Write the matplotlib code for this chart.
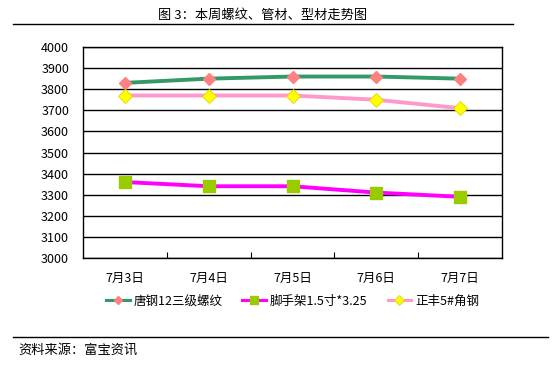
import matplotlib.pyplot as plt
import numpy as np

plt.rcParams['font.family'] = ['Noto Sans CJK SC', 'DejaVu Sans']

dates = ['7月3日', '7月4日', '7月5日', '7月6日', '7月7日']
rebar = [3830, 3850, 3860, 3860, 3850]
scaffold = [3360, 3340, 3340, 3310, 3290]
angle = [3770, 3770, 3770, 3750, 3710]

fig = plt.figure(figsize=(5.55, 3.81), dpi=100)
ax = fig.add_axes([83/555, 1 - 258/381, 419/555, 211/381])

x = np.arange(len(dates)) + 0.5
ax.plot(x, rebar, color='#339966', lw=2.8, marker='D', ms=6.5,
        mfc='#FF8080', mec='#FF8080', label='唐钢12三级螺纹', zorder=3)
ax.plot(x, scaffold, color='#FF00FF', lw=2.8, marker='s', ms=8,
        mfc='#99CC00', mec='#99CC00', label='脚手架1.5寸*3.25', zorder=3)
ax.plot(x, angle, color='#FF99CC', lw=2.8, marker='D', ms=7,
        mfc='#FFFF00', mec='#E8D000', mew=0.6, label='正丰5#角钢', zorder=3)

ax.set_xlim(0, len(dates))
ax.set_ylim(3000, 4000)
ax.set_yticks(np.arange(3000, 4001, 100))
ax.yaxis.grid(True, color='black', lw=1)
ax.set_axisbelow(True)
ax.tick_params(axis='y', length=0, pad=10, labelsize=9)

ax.set_xticks(np.arange(1, len(dates)))
ax.set_xticks(x, minor=True)
ax.set_xticklabels([], minor=False)
ax.set_xticklabels(dates, minor=True, fontsize=9)
ax.tick_params(axis='x', which='major', direction='in', length=4, color='black')
ax.tick_params(axis='x', which='minor', length=0, pad=10)
for s in ax.spines.values():
    s.set_color('black')
    s.set_linewidth(1)

leg = ax.legend(loc='center', bbox_to_anchor=(0.5, -43/211), ncol=3, frameon=False,
                fontsize=9, handlelength=1.9, columnspacing=1.6, handletextpad=0.3,
                markerscale=0.7)
for h in leg.legend_handles:
    h.set_linewidth(2.2)

fig.text(263/555, 1 - 15/381, '图 3：本周螺纹、管材、型材走势图', ha='center', va='center', fontsize=9.5)
fig.add_artist(plt.Line2D([13/555, 513/555], [1 - 24/381, 1 - 24/381], color='black', lw=1))
fig.add_artist(plt.Line2D([13/555, 548/555], [1 - 337/381, 1 - 337/381], color='black', lw=1))
fig.text(18/555, 1 - 350/381, '资料来源：富宝资讯', ha='left', va='center', fontsize=9.5)

fig.savefig('out.png', dpi=100)
